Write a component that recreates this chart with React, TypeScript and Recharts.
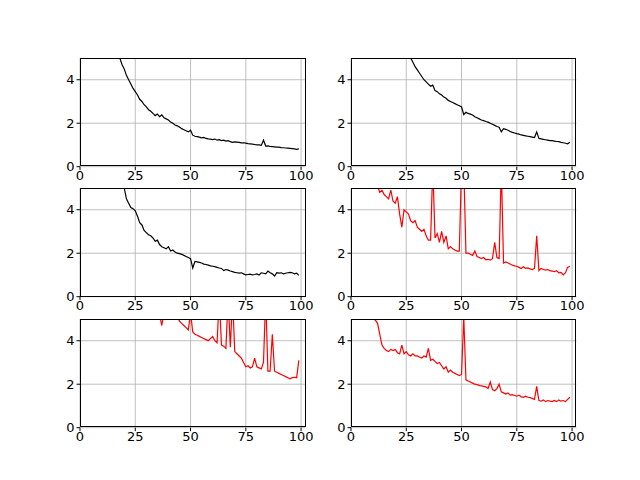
import { LineChart, Line, XAxis, YAxis, CartesianGrid } from 'recharts'

const xs = Array.from({ length: 100 }, (_, i) => i)

const s1 = [14,13,12.5,12,11.4,10.8,10.2,9.6,9.1,8.6,8.2,7.8,7.4,7.0,6.6,6.2,5.8,5.4,5.0,4.7,4.5,4.2,4.0,3.8,3.6,3.45,3.3,3.1,3.0,2.85,2.75,2.62,2.55,2.45,2.35,2.42,2.3,2.38,2.25,2.2,2.15,2.05,2.0,1.92,1.88,1.82,1.75,1.7,1.65,1.6,1.68,1.45,1.4,1.38,1.36,1.33,1.35,1.3,1.28,1.27,1.25,1.27,1.22,1.24,1.2,1.22,1.18,1.2,1.15,1.12,1.14,1.13,1.12,1.1,1.1,1.08,1.06,1.05,1.04,1.02,1.0,1.0,0.98,1.22,0.95,0.96,0.93,0.92,0.91,0.9,0.9,0.88,0.87,0.86,0.85,0.84,0.83,0.82,0.8,0.82]
const s2 = [16,15.5,15,14.5,14,13.5,13,12.5,12,11.5,11,10.5,10,9.6,9.2,8.8,8.4,8,7.6,7.3,7.0,6.7,6.4,6.1,5.8,5.5,5.25,5.0,4.8,4.6,4.45,4.3,4.15,4.0,3.9,3.8,3.7,3.75,3.5,3.45,3.35,3.3,3.2,3.15,3.05,3.0,2.95,2.9,2.85,2.8,2.75,2.4,2.5,2.45,2.42,2.38,2.3,2.25,2.2,2.15,2.12,2.08,2.05,2.0,1.95,1.9,1.85,1.82,1.6,1.75,1.72,1.68,1.62,1.58,1.55,1.52,1.5,1.46,1.44,1.42,1.4,1.38,1.36,1.34,1.6,1.3,1.28,1.26,1.24,1.22,1.2,1.2,1.18,1.16,1.15,1.12,1.1,1.08,1.05,1.12]
const s3 = [12,11.6,11.2,10.8,10.4,10,9.6,9.2,8.8,8.4,8.0,7.6,7.3,7.0,6.7,6.4,6.1,5.8,5.5,5.2,5.0,4.5,4.3,4.1,4.05,3.95,3.7,3.4,3.3,3.05,2.95,2.85,2.8,2.7,2.55,2.6,2.4,2.3,2.25,2.2,2.3,2.1,2.15,2.05,2.0,1.98,1.95,1.9,1.85,1.8,1.75,1.32,1.62,1.6,1.58,1.55,1.5,1.48,1.45,1.42,1.4,1.38,1.35,1.32,1.3,1.2,1.25,1.22,1.18,1.15,1.12,1.1,1.08,1.1,1.05,1.0,1.02,1.04,1.0,1.02,1.05,1.0,1.1,1.08,1.05,1.18,1.1,1.05,0.95,1.1,1.08,1.1,1.05,1.08,1.1,1.12,1.1,1.05,1.08,0.98]
const s4 = [9,8.8,8.5,8.2,7.9,7.6,7.3,7,6.7,6.4,6.0,5.6,5.1,4.8,4.9,4.7,4.6,4.5,4.9,4.4,4.3,4.6,3.8,3.2,4.0,3.9,3.8,3.5,3.4,3.5,3.2,3.1,3.0,3.1,2.8,2.6,2.6,6.0,2.7,2.9,2.5,3.0,2.5,2.8,2.2,2.3,2.2,2.15,2.1,2.1,6.0,6.0,2.0,2.0,1.95,1.9,2.1,1.85,1.8,1.75,1.8,1.7,1.72,1.68,1.75,2.5,1.8,1.75,6.0,1.55,1.6,1.55,1.5,1.45,1.42,1.4,1.35,1.3,1.38,1.3,1.32,1.28,1.25,1.3,2.8,1.2,1.3,1.25,1.22,1.25,1.2,1.18,1.15,1.2,1.1,1.12,1.0,1.1,1.35,1.4]
const s5 = [11,10.8,10.6,10.4,10.2,10,9.8,9.6,9.4,9.2,9.0,8.8,8.6,8.4,8.2,8.0,7.8,7.6,7.4,7.2,7.0,6.9,6.8,6.7,6.6,6.5,6.4,6.3,6.2,6.1,6.0,5.9,5.8,5.7,5.6,5.4,5.2,4.7,5.3,5.2,5.2,5.1,5.1,5.0,5.1,4.9,4.8,4.7,4.6,4.5,5.3,4.4,4.3,4.25,4.2,4.15,4.1,4.05,4.0,4.1,4.2,4.0,3.9,6.0,3.8,3.75,3.65,6.0,3.7,6.0,3.5,3.4,3.3,3.2,3.0,2.8,2.85,2.75,2.8,3.2,2.8,2.75,2.7,3.0,6.0,2.6,2.6,4.3,2.6,2.55,2.5,2.45,2.4,2.35,2.3,2.25,2.3,2.32,2.3,3.1]
const s6 = [8,7.6,7.2,6.8,6.4,6.0,5.7,5.4,5.2,5.05,5.0,4.95,4.8,4.3,3.8,3.65,3.55,3.5,3.6,3.55,3.6,3.45,3.4,3.8,3.4,3.5,3.35,3.3,3.4,3.3,3.3,3.25,3.2,3.3,3.25,3.65,3.1,3.15,3.05,2.95,3.0,2.85,2.7,2.8,2.55,2.65,2.55,2.5,2.45,2.4,2.45,5.1,2.2,2.15,2.1,2.05,2.0,1.98,1.95,1.92,1.9,1.88,1.8,2.1,1.75,1.7,1.8,2.0,1.65,1.6,1.55,1.6,1.5,1.52,1.48,1.45,1.5,1.42,1.4,1.45,1.4,1.38,1.35,1.3,1.9,1.25,1.22,1.28,1.2,1.25,1.22,1.2,1.25,1.2,1.28,1.22,1.25,1.2,1.3,1.4]

const xTicks = [0, 25, 50, 75, 100]
const yTicks = [0, 2, 4]

const panels = [
  { values: s1, color: '#000000' },
  { values: s2, color: '#000000' },
  { values: s3, color: '#000000' },
  { values: s4, color: '#ff0000' },
  { values: s5, color: '#ff0000' },
  { values: s6, color: '#ff0000' },
]

const AX_W = 225.5
const AX_H = 108.7
const LEFTS = [80, 350.5]
const TOPS = [57.6, 188.1, 318.5]
const tick = { fontSize: 13, fill: '#000', fontFamily: 'DejaVu Sans' }

function Panel({ values, color, left, top }: { values: number[]; color: string; left: number; top: number }) {
  const data = xs.map((x, i) => ({ x, y: values[i] }))
  return (
    <div style={{ position: 'absolute', left: left - 40, top: top - 10 }}>
      <LineChart width={AX_W + 60} height={AX_H + 35} data={data} margin={{ top: 10, right: 20, bottom: 0, left: 0 }}>
        <CartesianGrid stroke="#b0b0b0" strokeWidth={0.8} horizontalValues={yTicks} verticalValues={xTicks} />
        <XAxis dataKey="x" type="number" domain={[0, 102]} ticks={xTicks} allowDataOverflow height={25}
          tick={tick} tickSize={3.5} tickMargin={1} stroke="#000" axisLine={false} interval={0} />
        <YAxis type="number" domain={[0, 5]} ticks={yTicks} allowDataOverflow width={40}
          tick={tick} tickSize={3.5} tickMargin={2} stroke="#000" axisLine={false} interval={0} />
        <Line dataKey="y" stroke={color} strokeWidth={1.2} dot={false} isAnimationActive={false} />
      </LineChart>
      <div style={{ position: 'absolute', left: 40, top: 10, width: AX_W, height: AX_H, border: '0.8px solid #000', boxSizing: 'border-box', pointerEvents: 'none' }} />
    </div>
  )
}

export default function App() {
  return (
    <div style={{ position: 'fixed', left: 0, top: 0, width: 640, height: 480, background: '#fff' }}>
      {panels.map((p, i) => (
        <Panel key={i} values={p.values} color={p.color} left={LEFTS[i % 2]} top={TOPS[Math.floor(i / 2)]} />
      ))}
    </div>
  )
}
